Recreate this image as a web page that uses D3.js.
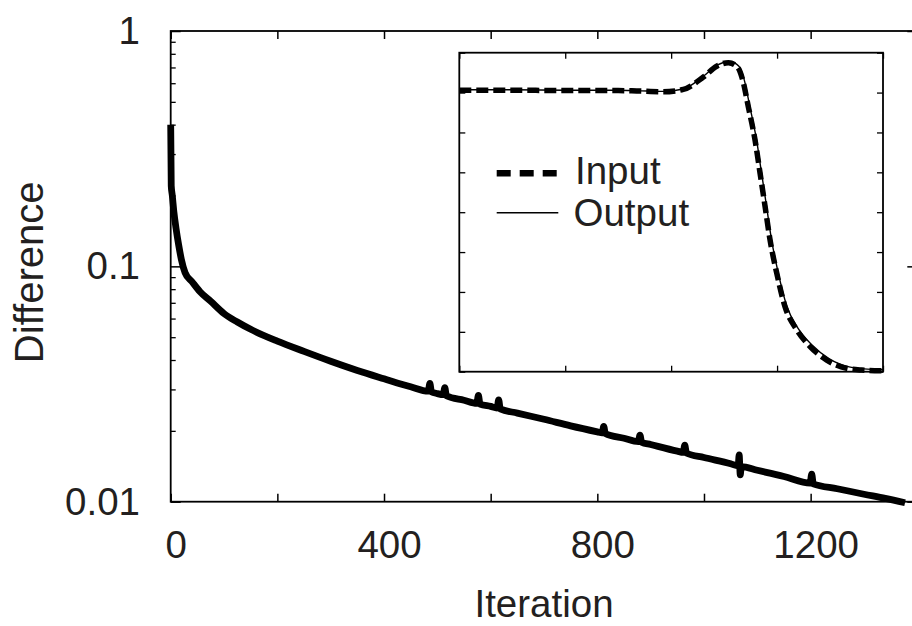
<!DOCTYPE html>
<html>
<head>
<meta charset="utf-8">
<script src="https://cdn.jsdelivr.net/npm/d3@7"></script>
<style>
  html, body { margin: 0; padding: 0; background: #fff; }
  svg { display: block; }
  text { font-family: "Liberation Sans", Arial, Helvetica, sans-serif; fill: #231f20; }
</style>
</head>
<body>
<svg id="chart" width="912" height="626"></svg>
<script>
// ---------- main chart data ----------
const iterations = [0, 1, 3, 6, 10, 15, 20, 27, 40, 55, 75, 100, 125, 150, 200, 250, 300, 350, 400, 450,
  483, 486, 489, 500, 511, 514, 517, 550, 574, 577, 580, 600, 612, 615, 618, 650, 700, 750, 800,
  809, 812, 815, 850, 877, 880, 883, 900, 950, 961, 964, 967, 1000, 1050, 1064, 1066, 1068, 1070,
  1100, 1150, 1199, 1202, 1205, 1250, 1300, 1340, 1377];
const difference = [0.40, 0.22, 0.20, 0.17, 0.145, 0.123, 0.107, 0.094, 0.086, 0.078, 0.071, 0.063, 0.058, 0.054, 0.0481, 0.0435, 0.0395, 0.0361, 0.0333, 0.0308,
  0.0295, 0.0318, 0.0293, 0.0288, 0.0285, 0.0305, 0.0282, 0.0270, 0.0262, 0.0283, 0.0260, 0.0254, 0.0250, 0.0271, 0.0248, 0.0238, 0.0224, 0.0210, 0.0198,
  0.0196, 0.0209, 0.0195, 0.0186, 0.0180, 0.0192, 0.0179, 0.0175, 0.0164, 0.0162, 0.0174, 0.0161, 0.0154, 0.0145, 0.0142, 0.0158, 0.0130, 0.0141,
  0.0136, 0.0128, 0.0120, 0.0131, 0.0119, 0.01135, 0.01076, 0.01033, 0.0099];

const xTicks = [0, 200, 400, 600, 800, 1000, 1200, 1400];
const xTickLabels = ["0", "", "400", "", "800", "", "1200", ""];
const yMajorTicks = [0.01, 0.1, 1];
const yTickLabels = ["0.01", "0.1", "1"];
const yMinorTicks = [0.02, 0.03, 0.04, 0.05, 0.06, 0.07, 0.08, 0.09, 0.2, 0.3, 0.4, 0.5, 0.6, 0.7, 0.8, 0.9];
const xTitle = "Iteration";
const yTitle = "Difference";

// ---------- inset data ----------
const insetInputX = [0, 0.5, 1.0, 1.5, 1.675, 1.926, 2.115, 2.304, 2.43, 2.54, 2.626, 2.677, 2.729, 2.792, 2.84, 2.887, 2.934, 2.997, 3.075, 3.186, 3.312, 3.469, 3.658, 3.8, 4.0];
const insetInputY = [7.06, 7.06, 7.05, 7.05, 7.04, 7.02, 7.08, 7.39, 7.66, 7.75, 7.64, 7.30, 6.64, 5.81, 4.97, 4.14, 3.30, 2.47, 1.63, 1.05, 0.63, 0.29, 0.085, 0.04, 0.02];
const insetOutputX = [0, 0.5, 1.0, 1.5, 1.675, 1.926, 2.115, 2.304, 2.43, 2.55, 2.64, 2.69, 2.742, 2.805, 2.853, 2.900, 2.947, 3.010, 3.090, 3.200, 3.330, 3.490, 3.680, 3.82, 4.0];
const insetOutputY = [7.07, 7.07, 7.06, 7.06, 7.05, 7.03, 7.09, 7.41, 7.68, 7.78, 7.66, 7.32, 6.66, 5.83, 4.99, 4.16, 3.32, 2.49, 1.66, 1.08, 0.67, 0.33, 0.12, 0.07, 0.05];
const insetXTicks = [0, 1, 2, 3, 4];
const insetYTicks = [0, 1, 2, 3, 4, 5, 6, 7, 8];
const legendLabels = ["Input", "Output"];

// ---------- drawing ----------
const svg = d3.select("#chart");
svg.append("rect").attr("width", 912).attr("height", 626).attr("fill", "#fff");

const x = d3.scaleLinear().domain([0, 1400]).range([170.7, 917.3]);
const y = d3.scaleLog().domain([0.01, 1]).range([501.7, 31]);

const fontSize = 38.5;
const textColor = "#231f20";
const fontFam = '"Liberation Sans", Arial, Helvetica, sans-serif';

// bottom axis
const gB = svg.append("g").attr("transform", `translate(0,${y(0.01)})`)
  .call(d3.axisBottom(x).tickValues(xTicks).tickSizeInner(-8).tickSizeOuter(0)
    .tickFormat((d, i) => xTickLabels[i]));
gB.select(".domain").remove();
gB.selectAll(".tick line").attr("stroke", "#000").attr("stroke-width", 1.5);
gB.selectAll(".tick text").attr("font-size", fontSize).attr("fill", textColor)
  .attr("y", 56.5).attr("dy", 0).attr("dx", 5).style("font-family", fontFam);

// top axis
const gT = svg.append("g").attr("transform", `translate(0,${y(1)})`)
  .call(d3.axisTop(x).tickValues(xTicks).tickSizeInner(-8).tickSizeOuter(0).tickFormat(""));
gT.select(".domain").remove();
gT.selectAll(".tick line").attr("stroke", "#000").attr("stroke-width", 1.5);

// left axis major
const gL = svg.append("g").attr("transform", `translate(${x(0)},0)`)
  .call(d3.axisLeft(y).tickValues(yMajorTicks).tickSizeInner(-10).tickSizeOuter(0).tickPadding(30.7)
    .tickFormat((d, i) => yTickLabels[i]));
gL.select(".domain").remove();
gL.selectAll(".tick line").attr("stroke", "#000").attr("stroke-width", 1.5);
gL.selectAll(".tick text").attr("font-size", fontSize).attr("fill", textColor).style("font-family", fontFam);

// left axis minor
const gLm = svg.append("g").attr("transform", `translate(${x(0)},0)`)
  .call(d3.axisLeft(y).tickValues(yMinorTicks).tickSizeInner(-5).tickSizeOuter(0).tickFormat(""));
gLm.select(".domain").remove();
gLm.selectAll(".tick line").attr("stroke", "#000").attr("stroke-width", 1.3);

// right axis
const gR = svg.append("g").attr("transform", `translate(${x(1400)},0)`)
  .call(d3.axisRight(y).tickValues(yMajorTicks).tickSizeInner(-10).tickSizeOuter(0).tickFormat(""));
gR.select(".domain").remove();
gR.selectAll(".tick line").attr("stroke", "#000").attr("stroke-width", 1.5);
const gRm = svg.append("g").attr("transform", `translate(${x(1400)},0)`)
  .call(d3.axisRight(y).tickValues(yMinorTicks).tickSizeInner(-5).tickSizeOuter(0).tickFormat(""));
gRm.select(".domain").remove();
gRm.selectAll(".tick line").attr("stroke", "#000").attr("stroke-width", 1.3);

// frame
svg.append("rect")
  .attr("x", x(0)).attr("y", y(1))
  .attr("width", x(1400) - x(0)).attr("height", y(0.01) - y(1))
  .attr("fill", "none").attr("stroke", "#000").attr("stroke-width", 1.8);

// main curve
const mainData = iterations.map((d, i) => [d, difference[i]]);
svg.append("path")
  .datum(mainData)
  .attr("fill", "none")
  .attr("stroke", "#000")
  .attr("stroke-width", 6.8)
  .attr("stroke-linejoin", "round")
  .attr("d", d3.line().x(d => x(d[0])).y(d => y(d[1])).curve(d3.curveMonotoneX));

// axis titles
svg.append("text").attr("x", (x(0) + x(1400)) / 2).attr("y", 617)
  .attr("text-anchor", "middle").attr("font-size", fontSize).text(xTitle);
svg.append("text").attr("transform", `translate(43,${(y(1) + y(0.01)) / 2 + 6}) rotate(-90)`)
  .attr("text-anchor", "middle").attr("font-size", 40).text(yTitle);

// ---------- inset ----------
const ix = d3.scaleLinear().domain([0, 4]).range([459.3, 883]);
const iy = d3.scaleLinear().domain([0, 8]).range([371.7, 52.7]);

svg.append("rect")
  .attr("x", ix(0)).attr("y", iy(8))
  .attr("width", ix(4) - ix(0)).attr("height", iy(0) - iy(8))
  .attr("fill", "#fff").attr("stroke", "none");

function insetAxis(axis, tx, ty) {
  const g = svg.append("g").attr("transform", `translate(${tx},${ty})`).call(axis);
  g.select(".domain").remove();
  g.selectAll(".tick line").attr("stroke", "#000").attr("stroke-width", 1.3);
  return g;
}
insetAxis(d3.axisBottom(ix).tickValues(insetXTicks).tickSizeInner(-6).tickSizeOuter(0).tickFormat(""), 0, iy(0));
insetAxis(d3.axisTop(ix).tickValues(insetXTicks).tickSizeInner(-6).tickSizeOuter(0).tickFormat(""), 0, iy(8));
insetAxis(d3.axisLeft(iy).tickValues(insetYTicks).tickSizeInner(-6).tickSizeOuter(0).tickFormat(""), ix(0), 0);
insetAxis(d3.axisRight(iy).tickValues(insetYTicks).tickSizeInner(-6).tickSizeOuter(0).tickFormat(""), ix(4), 0);

svg.append("rect")
  .attr("x", ix(0)).attr("y", iy(8))
  .attr("width", ix(4) - ix(0)).attr("height", iy(0) - iy(8))
  .attr("fill", "none").attr("stroke", "#000").attr("stroke-width", 1.8);

const iline = d3.line().x(d => ix(d[0])).y(d => iy(d[1])).curve(d3.curveMonotoneX);
svg.append("path")
  .datum(insetOutputX.map((d, i) => [d, insetOutputY[i]]))
  .attr("fill", "none").attr("stroke", "#000").attr("stroke-width", 1.4)
  .attr("d", iline);
svg.append("path")
  .datum(insetInputX.map((d, i) => [d, insetInputY[i]]))
  .attr("fill", "none").attr("stroke", "#000").attr("stroke-width", 5.5)
  .attr("stroke-dasharray", "12,5")
  .attr("d", iline);

// legend
const legend = svg.append("g");
legend.append("line").attr("x1", 496.7).attr("x2", 556.7).attr("y1", 173.3).attr("y2", 173.3)
  .attr("stroke", "#000").attr("stroke-width", 6.5).attr("stroke-dasharray", "14,9");
legend.append("line").attr("x1", 496.7).attr("x2", 558.3).attr("y1", 212.7).attr("y2", 212.7)
  .attr("stroke", "#000").attr("stroke-width", 1.4);
legend.append("text").attr("x", 575).attr("y", 184).attr("font-size", fontSize).text(legendLabels[0]);
legend.append("text").attr("x", 573.5).attr("y", 226).attr("font-size", fontSize).text(legendLabels[1]);
</script>
</body>
</html>
